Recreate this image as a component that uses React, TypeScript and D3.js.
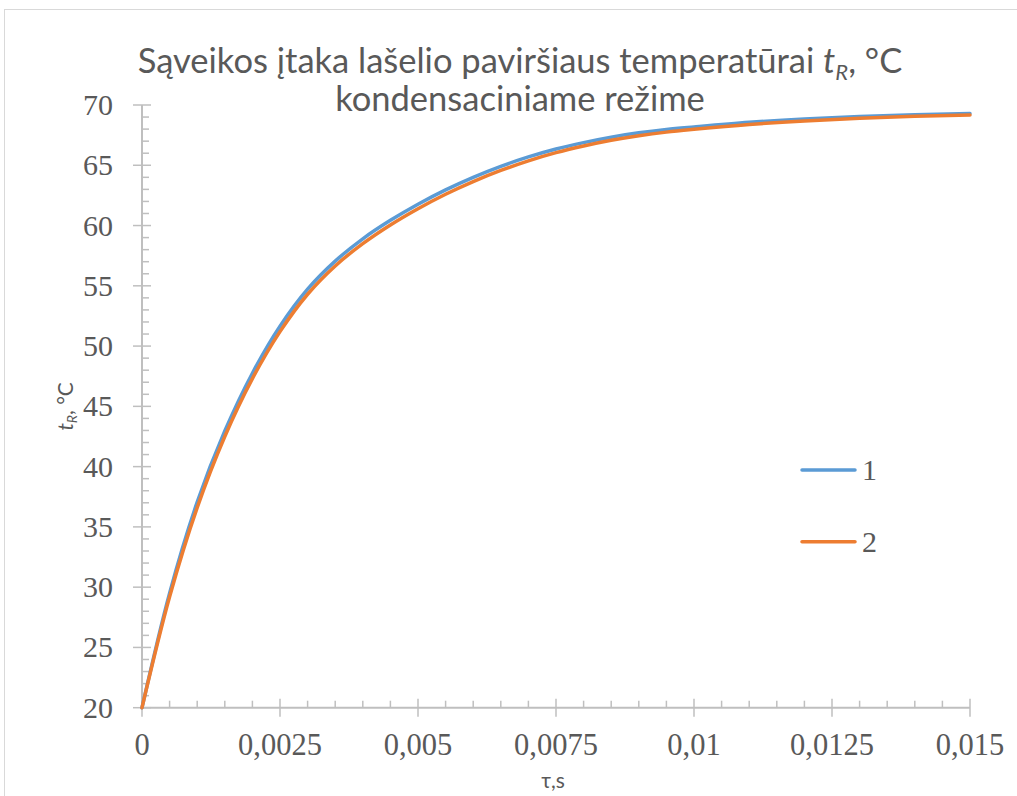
import * as d3 from 'd3';

const tau = [0, 0.0005, 0.001, 0.0015, 0.002, 0.0025, 0.003, 0.0035, 0.004, 0.0045, 0.005, 0.0055, 0.006, 0.0065, 0.007, 0.0075, 0.008, 0.0085, 0.009, 0.0095, 0.01, 0.011, 0.012, 0.013, 0.014, 0.015];
const series1 = [20, 29.5, 37.05, 42.95, 47.75, 51.65, 54.72, 57.05, 58.9, 60.43, 61.77, 62.96, 64.0, 64.91, 65.69, 66.35, 66.88, 67.33, 67.69, 67.97, 68.18, 68.56, 68.84, 69.04, 69.19, 69.3];
const series2 = [20, 29.2, 36.6, 42.5, 47.3, 51.2, 54.3, 56.65, 58.5, 60.05, 61.4, 62.6, 63.65, 64.57, 65.37, 66.05, 66.6, 67.07, 67.45, 67.75, 67.98, 68.38, 68.68, 68.9, 69.06, 69.17];

const xTicks = [0, 0.0025, 0.005, 0.0075, 0.01, 0.0125, 0.015];
const xTickLabels = ['0', '0,0025', '0,005', '0,0075', '0,01', '0,0125', '0,015'];
const yTicks = [20, 25, 30, 35, 40, 45, 50, 55, 60, 65, 70];
const legendNames = ['1', '2'];

const W = 1017;
const H = 796;
const plot = { left: 142, right: 970, top: 105, bottom: 707.7 };
const axisColor = '#bfbfbf';
const textColor = '#595959';
const colors = ['#5b9bd5', '#ed7d31'];
const serif = 'Liberation Serif';
const sans = 'Lato';

export default function App() {
  const x = d3.scaleLinear().domain([0, 0.015]).range([plot.left, plot.right]);
  const y = d3.scaleLinear().domain([20, 70]).range([plot.bottom, plot.top]);

  const xMinor = d3.range(0, 0.015 + 1e-9, 0.0005).filter((_, i) => i % 5 !== 0);
  const yMinor = d3.range(20, 70.001, 1).filter((v) => v % 5 !== 0);

  const line = d3
    .line<[number, number]>()
    .x((d) => x(d[0]))
    .y((d) => y(d[1]))
    .curve(d3.curveCatmullRom.alpha(0.5));

  const allSeries = [series1, series2];

  return (
    <svg width={W} height={H} style={{ display: 'block', position: 'absolute', left: 0, top: 0, background: '#fff' }}>
      {/* chart border */}
      <rect x={4.5} y={9.5} width={W + 40} height={H + 40} fill="none" stroke="#d9d9d9" strokeWidth={1} />

      {/* title */}
      <text x={520} y={73} textAnchor="middle" fontFamily={sans} fontSize={34.5} fill={textColor}>
        Sąveikos įtaka lašelio paviršiaus temperatūrai{' '}
        <tspan fontStyle="italic">t</tspan>
        <tspan fontStyle="italic" fontSize={22} dy={7}>R</tspan>
        <tspan dy={-7}>, °C</tspan>
      </text>
      <text x={520} y={111} textAnchor="middle" fontFamily={sans} fontSize={34.5} fill={textColor}>
        kondensaciniame režime
      </text>

      {/* y axis */}
      <line x1={plot.left} x2={plot.left} y1={plot.top} y2={plot.bottom} stroke={axisColor} strokeWidth={2} />
      {yTicks.map((v) => (
        <g key={'y' + v}>
          <line x1={plot.left - 9} x2={plot.left + 9} y1={y(v)} y2={y(v)} stroke={axisColor} strokeWidth={1.5} />
          <text x={113} y={y(v) + 10} textAnchor="end" fontFamily={serif} fontSize={30} fill={textColor}>
            {v}
          </text>
        </g>
      ))}
      {yMinor.map((v) => (
        <line key={'ym' + v} x1={plot.left} x2={plot.left + 7} y1={y(v)} y2={y(v)} stroke={axisColor} strokeWidth={1.5} />
      ))}

      {/* x axis */}
      <line x1={plot.left} x2={plot.right} y1={plot.bottom} y2={plot.bottom} stroke={axisColor} strokeWidth={2} />
      {xTicks.map((v, i) => (
        <g key={'x' + v}>
          <line x1={x(v)} x2={x(v)} y1={plot.bottom - 9} y2={plot.bottom + 9} stroke={axisColor} strokeWidth={1.5} />
          <text x={x(v)} y={755} textAnchor="middle" fontFamily={serif} fontSize={30.5} fill={textColor}>
            {xTickLabels[i]}
          </text>
        </g>
      ))}
      {xMinor.map((v) => (
        <line key={'xm' + v} x1={x(v)} x2={x(v)} y1={plot.bottom - 7} y2={plot.bottom} stroke={axisColor} strokeWidth={1.5} />
      ))}

      {/* axis titles */}
      <text
        transform={`translate(73,${(plot.top + plot.bottom) / 2}) rotate(-90)`}
        textAnchor="middle"
        fontFamily={sans}
        fontSize={21}
        fill={textColor}
      >
        <tspan fontStyle="italic">t</tspan>
        <tspan fontStyle="italic" fontSize={14} dy={4}>R</tspan>
        <tspan dy={-4}>, °C</tspan>
      </text>
      <text x={553} y={788} textAnchor="middle" fontFamily={sans} fontSize={21} fill={textColor}>
        τ,s
      </text>

      {/* series */}
      {allSeries.map((s, i) => (
        <path
          key={'s' + i}
          d={line(tau.map((t, j) => [t, s[j]] as [number, number])) ?? ''}
          fill="none"
          stroke={colors[i]}
          strokeWidth={3.5}
          strokeLinecap="round"
        />
      ))}

      {/* legend */}
      {legendNames.map((name, i) => (
        <g key={'lg' + i} transform={`translate(0,${470 + i * 71.7})`}>
          <line x1={802} x2={855} y1={0} y2={0} stroke={colors[i]} strokeWidth={3.5} strokeLinecap="round" />
          <text x={862} y={10} fontFamily={serif} fontSize={30} fill={textColor}>
            {name}
          </text>
        </g>
      ))}
    </svg>
  );
}
